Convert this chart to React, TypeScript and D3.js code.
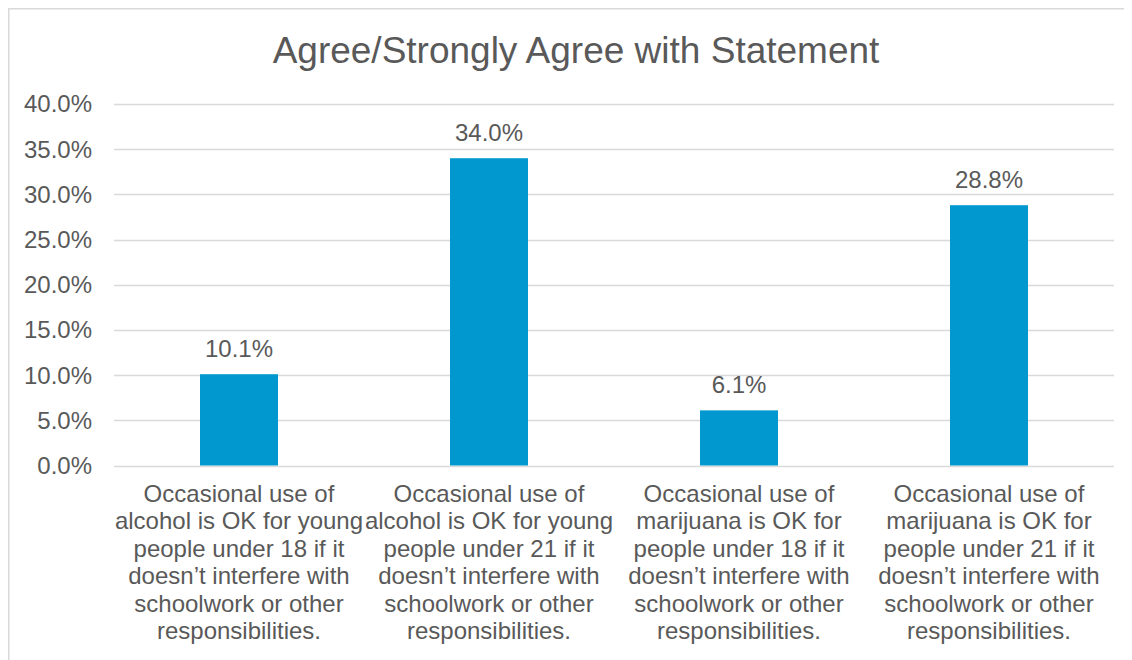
import React from "react";
import * as d3 from "d3";

const title = "Agree/Strongly Agree with Statement";
const categories: string[][] = [
  ["Occasional use of", "alcohol is OK for young", "people under 18 if it", "doesn\u2019t interfere with", "schoolwork or other", "responsibilities."],
  ["Occasional use of", "alcohol is OK for young", "people under 21 if it", "doesn\u2019t interfere with", "schoolwork or other", "responsibilities."],
  ["Occasional use of", "marijuana is OK for", "people under 18 if it", "doesn\u2019t interfere with", "schoolwork or other", "responsibilities."],
  ["Occasional use of", "marijuana is OK for", "people under 21 if it", "doesn\u2019t interfere with", "schoolwork or other", "responsibilities."],
];
const values = [10.1, 34.0, 6.1, 28.8];
const yTicks = [0, 5, 10, 15, 20, 25, 30, 35, 40];

const W = 1124;
const H = 652;
const OX = 8; // page offset due to body margin

export default function App() {
  const left = 114 - OX;
  const right = 1114 - OX;
  const top = 104 - OX;
  const bottom = 465.5 - OX;
  const x = d3
    .scaleBand<number>()
    .domain(values.map((_, i) => i))
    .range([left, right])
    .paddingInner(0.688)
    .paddingOuter(0.344);
  const y = d3.scaleLinear().domain([0, 40]).range([bottom, top]);
  const font = "'Liberation Sans', Arial, sans-serif";
  const textColor = "#595959";
  const fs = 24;
  return (
    <svg width={W} height={H} style={{ display: "block" }} fontFamily={font}>
      <rect x={0.75} y={0.75} width={W + 50} height={H + 50} fill="#fff" stroke="#d9d9d9" strokeWidth={1.5} />
      <text x={576 - OX} y={63 - OX} textAnchor="middle" fontSize={37} fill={textColor}>
        {title}
      </text>
      {yTicks.map((t) => (
        <g key={t}>
          <line x1={left} x2={right} y1={Math.round(y(t)) + 0.5} y2={Math.round(y(t)) + 0.5} stroke="#d9d9d9" strokeWidth={1.5} />
          <text x={92 - OX} y={y(t)} dy="0.35em" textAnchor="end" fontSize={fs} fill={textColor}>
            {d3.format(".1f")(t) + "%"}
          </text>
        </g>
      ))}
      {values.map((v, i) => (
        <g key={i}>
          <rect x={x(i)} y={y(v)} width={x.bandwidth()} height={y(0) - y(v)} fill="#0098CE" />
          <text x={(x(i) as number) + x.bandwidth() / 2} y={y(v) - 17} textAnchor="middle" fontSize={fs} fill={textColor}>
            {d3.format(".1f")(v) + "%"}
          </text>
        </g>
      ))}
      {categories.map((lines, i) => (
        <text key={i} textAnchor="middle" fontSize={fs} fill={textColor}>
          {lines.map((ln, j) => (
            <tspan key={j} x={(x(i) as number) + x.bandwidth() / 2} y={502 - OX + j * 27.4}>
              {ln}
            </tspan>
          ))}
        </text>
      ))}
    </svg>
  );
}
